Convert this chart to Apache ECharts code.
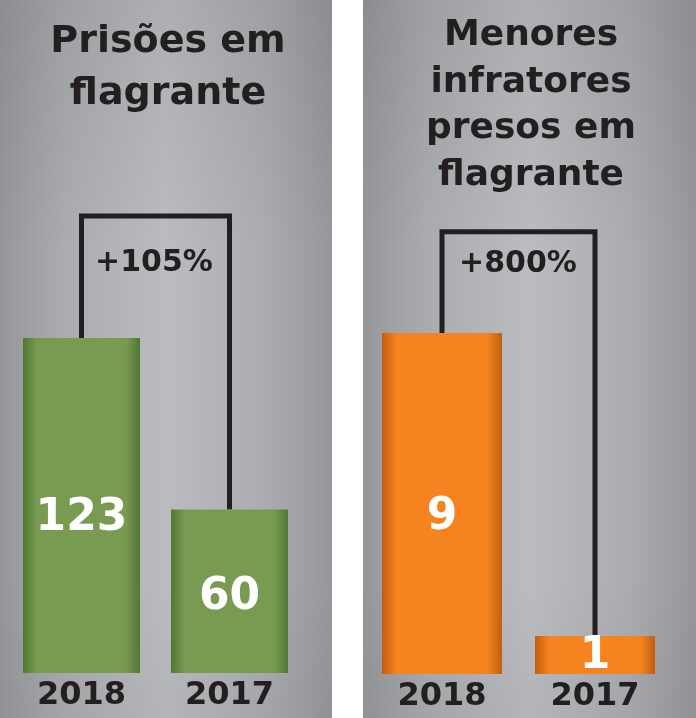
<!DOCTYPE html>
<html><head><meta charset="utf-8">
<script src="https://cdn.jsdelivr.net/npm/echarts@6/dist/echarts.min.js"></script>
<style>html,body{margin:0;padding:0;background:#fff}#c{width:696px;height:718px}</style>
</head><body><div id="c"></div>
<script>
const years = ['2018', '2017'];
const prisoes = [123, 60];
const menores = [9, 1];
const pctLabels = ['+105%', '+800%'];
const titleLeft = ['Prisões em', 'flagrante'];
const titleRight = ['Menores', 'infratores', 'presos em', 'flagrante'];

const FONT = '"DejaVu Sans", sans-serif';
const DARK = '#231f20';
const chart = echarts.init(document.getElementById('c'), null, {renderer: 'canvas'});

function panelBg(x, w) {
  return [{
    type: 'rect', z: -10, shape: {x: x, y: 0, width: w, height: 718},
    style: {fill: new echarts.graphic.LinearGradient(0, 0, 1, 0, [
      {offset: 0, color: '#95979b'}, {offset: 0.2, color: '#aaacaf'}, {offset: 0.5, color: '#babcbf'},
      {offset: 0.8, color: '#aaacaf'}, {offset: 1, color: '#95979b'}])}
  }, {
    type: 'rect', z: -9, shape: {x: x, y: 0, width: w, height: 718},
    style: {fill: new echarts.graphic.LinearGradient(0, 0, 0, 1, [
      {offset: 0, color: 'rgba(0,0,0,0.07)'}, {offset: 0.35, color: 'rgba(0,0,0,0)'},
      {offset: 0.8, color: 'rgba(0,0,0,0)'}, {offset: 1, color: 'rgba(0,0,0,0.04)'}])}
  }];
}
function txt(t, x, y, size) {
  return {type: 'text', z: 100, x: x, y: y,
    style: {text: t, fill: DARK, font: 'bold ' + size + 'px ' + FONT, textAlign: 'center', textVerticalAlign: 'middle'}};
}
function barGrad(edge, mid) {
  return new echarts.graphic.LinearGradient(0, 0, 1, 0, [
    {offset: 0, color: edge}, {offset: 0.12, color: mid}, {offset: 0.88, color: mid}, {offset: 1, color: edge}]);
}

const graphics = panelBg(0, 332).concat(panelBg(363, 333));
titleLeft.forEach((t, i) => graphics.push(txt(t, 168, 42 + i * 52, 38)));
titleRight.forEach((t, i) => graphics.push(txt(t, 531, 36 + i * 46.5, 36)));
graphics.push(txt(pctLabels[0], 154, 263, 30));
graphics.push(txt(pctLabels[1], 518, 264, 30));

const xAxisBase = {
  type: 'category', data: years,
  axisLine: {show: false}, axisTick: {show: false},
  axisLabel: {fontSize: 32, fontWeight: 'bold', fontFamily: FONT, color: DARK, margin: 7}
};
const valueLabel = {show: true, position: ['50%', '54%'], align: 'center', verticalAlign: 'middle',
  color: '#fff', fontSize: 44, fontWeight: 'bold', fontFamily: FONT};

const option = {
  backgroundColor: '#ffffff',
  animation: false,
  graphic: graphics,
  grid: [
    {left: 7.5, width: 296, bottom: 45, top: 182.8},
    {left: 365.5, width: 306, bottom: 44, top: 219.2}
  ],
  xAxis: [Object.assign({gridIndex: 0}, xAxisBase), Object.assign({gridIndex: 1}, xAxisBase)],
  yAxis: [
    {gridIndex: 0, type: 'value', min: 0, max: 180, show: false},
    {gridIndex: 1, type: 'value', min: 0, max: 12, show: false}
  ],
  series: [
    {type: 'line', xAxisIndex: 0, yAxisIndex: 0, symbol: 'none', z: 1,
      lineStyle: {color: DARK, width: 5, join: 'miter'},
      data: [[0, prisoes[0]], [0, 167.8], [1, 167.8], [1, prisoes[1]]]},
    {type: 'bar', xAxisIndex: 0, yAxisIndex: 0, barWidth: 117, z: 2,
      itemStyle: {color: barGrad('#4f7834', '#799a51')}, label: valueLabel, data: prisoes},
    {type: 'line', xAxisIndex: 1, yAxisIndex: 1, symbol: 'none', z: 1,
      lineStyle: {color: DARK, width: 5, join: 'miter'},
      data: [[0, menores[0]], [0, 11.67], [1, 11.67], [1, menores[1]]]},
    {type: 'bar', xAxisIndex: 1, yAxisIndex: 1, barWidth: 120, z: 2,
      itemStyle: {color: barGrad('#c15e10', '#f5831f')}, label: valueLabel, data: menores}
  ]
};
chart.setOption(option);
</script></body></html>
